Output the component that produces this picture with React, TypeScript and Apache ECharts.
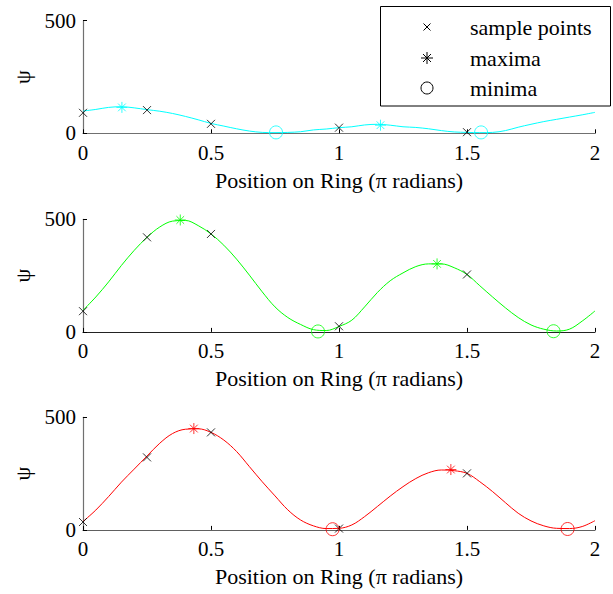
import React, { useEffect, useRef } from 'react';
import * as echarts from 'echarts';

// Positions along ring (π radians)
const xGrid = [0, 0.05, 0.1, 0.15, 0.2, 0.25, 0.3, 0.35, 0.4, 0.45, 0.5, 0.55, 0.6, 0.65, 0.7, 0.75, 0.8, 0.85, 0.9, 0.95, 1, 1.05, 1.1, 1.15, 1.2, 1.25, 1.3, 1.35, 1.4, 1.45, 1.5, 1.55, 1.6, 1.65, 1.7, 1.75, 1.8, 1.85, 1.9, 1.95, 2];

// Curves
const cyanCurve = [99, 106, 115, 118, 113, 105, 98, 88, 75, 60, 44, 32, 20, 10, 4, 3, 4, 7, 15, 19, 25, 29, 37, 40, 36, 29, 26, 20, 12, 6, 4, 3, 4, 12, 27, 40, 52, 62, 72, 82, 93];
const greenCurve = [96, 155, 222, 295, 362, 420, 466, 492, 495, 472, 435, 385, 323, 252, 178, 111, 64, 33, 10, 6, 24, 52, 111, 175, 227, 262, 290, 302, 302, 285, 255, 205, 155, 107, 64, 31, 12, 4, 12, 48, 93];
const redCurve = [37, 88, 148, 212, 270, 328, 385, 428, 447, 449, 433, 399, 348, 281, 214, 151, 89, 44, 18, 6, 7, 22, 59, 104, 150, 192, 228, 254, 266, 263, 251, 214, 170, 121, 74, 40, 18, 7, 6, 15, 41];

// Sample points
const sampleX = [0, 0.25, 0.5, 1, 1.5];
const cyanSamples = [91, 103, 42, 25, 5];
const greenSamples = [92, 420, 435, 25, 255];
const redSamples = [35, 322, 433, 6, 251];

// Maxima
const cyanMaxX = [0.152, 1.162];
const cyanMaxY = [115, 36];
const greenMaxX = [0.38, 1.383];
const greenMaxY = [497, 302];
const redMaxX = [0.433, 1.437];
const redMaxY = [450, 268];

// Minima
const cyanMinX = [0.754, 1.555];
const cyanMinY = [4, 4];
const greenMinX = [0.918, 1.838];
const greenMinY = [2, 3];
const redMinX = [0.975, 1.893];
const redMinY = [3, 4];

const xTitle = 'Position on Ring (π radians)';
const yTitle = 'ψ';
const legendLabels = ['sample points', 'maxima', 'minima'];

const FONT = '"Liberation Serif", "Times New Roman", serif';
const CROSS = 'path://M0,0L10,10M10,0L0,10';
const STAR = 'path://M5,0L5,10M0,5L10,5M1.5,1.5L8.5,8.5M8.5,1.5L1.5,8.5';

const pair = (xs: number[], ys: number[]) => xs.map((x, i) => [x, ys[i]]);

export default function App() {
  const ref = useRef<HTMLDivElement>(null);
  useEffect(() => {
    if (!ref.current) return;
    const chart = echarts.init(ref.current, null, { renderer: 'svg' });
    const panels = [
      { color: '#00FFFF', curve: cyanCurve, samples: cyanSamples, maxX: cyanMaxX, maxY: cyanMaxY, minX: cyanMinX, minY: cyanMinY, top: 20.7, axis: '#707070' },
      { color: '#00FF00', curve: greenCurve, samples: greenSamples, maxX: greenMaxX, maxY: greenMaxY, minX: greenMinX, minY: greenMinY, top: 219.3, axis: '#222222' },
      { color: '#FF0000', curve: redCurve, samples: redSamples, maxX: redMaxX, maxY: redMaxY, minX: redMinX, minY: redMinY, top: 417.3, axis: '#606060' },
    ];
    const grid = panels.map((p) => ({ left: 83, width: 512, top: p.top, height: 112.6 }));
    const xAxis = panels.map((p, i) => ({
      gridIndex: i,
      type: 'value',
      min: 0,
      max: 2,
      interval: 0.5,
      axisLine: { show: true, lineStyle: { color: p.axis, width: 1.2 } },
      axisTick: { show: true, inside: true, length: 4, lineStyle: { color: '#000' } },
      axisLabel: { color: '#000', fontSize: 21, fontFamily: FONT, margin: 9 },
      splitLine: { show: false },
      name: xTitle,
      nameLocation: 'middle',
      nameGap: 36,
      nameTextStyle: { color: '#000', fontSize: 22, fontFamily: FONT },
    }));
    const yAxis = panels.map((p, i) => ({
      gridIndex: i,
      type: 'value',
      min: 0,
      max: 500,
      interval: 500,
      axisLine: { show: true, lineStyle: { color: '#707070', width: 1.2 } },
      axisTick: { show: true, inside: true, length: 4, lineStyle: { color: '#000' } },
      axisLabel: { color: '#000', fontSize: 21, fontFamily: FONT, margin: 7 },
      splitLine: { show: false },
      name: yTitle,
      nameLocation: 'middle',
      nameRotate: 90,
      nameGap: 49,
      nameTextStyle: { color: '#000', fontSize: 22, fontFamily: FONT },
    }));
    const series: any[] = [];
    panels.forEach((p, i) => {
      series.push({
        type: 'line',
        xAxisIndex: i,
        yAxisIndex: i,
        data: pair(xGrid, p.curve),
        smooth: 0.35,
        symbol: 'none',
        lineStyle: { color: p.color, width: 1 },
        z: 2,
      });
      series.push({
        type: 'scatter',
        xAxisIndex: i,
        yAxisIndex: i,
        data: pair(sampleX, p.samples),
        symbol: CROSS,
        symbolSize: 8,
        itemStyle: { color: 'transparent', borderColor: '#000', borderWidth: 1 },
        z: 3,
      });
      series.push({
        type: 'scatter',
        xAxisIndex: i,
        yAxisIndex: i,
        data: pair(p.maxX, p.maxY),
        symbol: STAR,
        symbolSize: 11,
        itemStyle: { color: 'transparent', borderColor: p.color, borderWidth: 1 },
        z: 3,
      });
      series.push({
        type: 'scatter',
        xAxisIndex: i,
        yAxisIndex: i,
        data: pair(p.minX, p.minY),
        symbol: 'circle',
        symbolSize: 13,
        itemStyle: { color: 'transparent', borderColor: p.color, borderWidth: 1 },
        z: 3,
      });
    });

    const lx = 427;
    const rows = [27, 58, 88];
    const line = (x1: number, y1: number, x2: number, y2: number) => ({
      type: 'line',
      shape: { x1, y1, x2, y2 },
      style: { stroke: '#000', lineWidth: 1 },
      z: 101,
    });
    const graphic: any[] = [
      {
        type: 'rect',
        shape: { x: 380.5, y: 6.5, width: 230, height: 99.5 },
        style: { fill: '#fff', stroke: '#000', lineWidth: 1 },
        z: 100,
      },
      line(lx - 3.5, rows[0] - 3.5, lx + 3.5, rows[0] + 3.5),
      line(lx + 3.5, rows[0] - 3.5, lx - 3.5, rows[0] + 3.5),
      line(lx, rows[1] - 6, lx, rows[1] + 6),
      line(lx - 6, rows[1], lx + 6, rows[1]),
      line(lx - 4, rows[1] - 4, lx + 4, rows[1] + 4),
      line(lx + 4, rows[1] - 4, lx - 4, rows[1] + 4),
      {
        type: 'circle',
        shape: { cx: lx, cy: rows[2], r: 6 },
        style: { fill: 'transparent', stroke: '#000', lineWidth: 1 },
        z: 101,
      },
      ...legendLabels.map((t, k) => ({
        type: 'text',
        x: 470,
        y: rows[k],
        style: { text: t, fill: '#000', font: `22px ${FONT}`, verticalAlign: 'middle', align: 'left' },
        z: 101,
      })),
    ];

    chart.setOption({
      animation: false,
      backgroundColor: '#fff',
      grid,
      xAxis,
      yAxis,
      series,
      graphic,
    });
    return () => chart.dispose();
  }, []);
  return <div ref={ref} style={{ position: 'fixed', left: 0, top: 0, width: 613, height: 594 }} />;
}
